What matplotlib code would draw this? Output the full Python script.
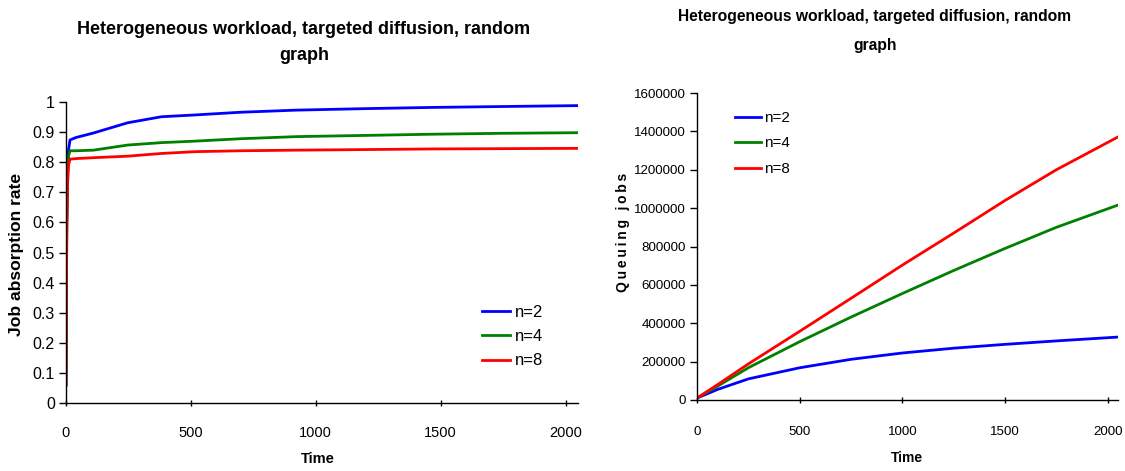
import matplotlib
matplotlib.use("Agg")
import matplotlib.pyplot as plt

plt.rcParams['font.family'] = ['Liberation Sans', 'DejaVu Sans']

# ---- data ----
series_labels = ["n=2", "n=4", "n=8"]
series_colors = ["#0000ff", "#008000", "#ff0000"]

t_abs = [0, 3, 6, 10, 16, 40, 110, 247, 382, 517, 700, 923, 1200, 1467, 1750, 2049]
abs_n2 = [0.06, 0.60, 0.76, 0.84, 0.874, 0.882, 0.897, 0.931, 0.951, 0.957, 0.966, 0.973, 0.978, 0.982, 0.985, 0.988]
abs_n4 = [0.06, 0.60, 0.75, 0.82, 0.838, 0.838, 0.840, 0.857, 0.865, 0.870, 0.878, 0.885, 0.889, 0.893, 0.896, 0.898]
abs_n8 = [0.06, 0.55, 0.72, 0.79, 0.810, 0.812, 0.815, 0.820, 0.829, 0.835, 0.838, 0.840, 0.842, 0.844, 0.845, 0.846]

t_q = [0, 100, 250, 500, 750, 1000, 1250, 1500, 1750, 2050]
q_n2 = [10000, 55000, 110000, 168000, 212000, 245000, 270000, 290000, 308000, 328000]
q_n4 = [10000, 72000, 168000, 304000, 432000, 555000, 675000, 790000, 900000, 1016000]
q_n8 = [10000, 80000, 188000, 358000, 530000, 703000, 870000, 1040000, 1200000, 1371000]

abs_ticks = [0, 0.1, 0.2, 0.3, 0.4, 0.5, 0.6, 0.7, 0.8, 0.9, 1]
abs_tick_labels = ["0", "0.1", "0.2", "0.3", "0.4", "0.5", "0.6", "0.7", "0.8", "0.9", "1"]
q_ticks = [0, 200000, 400000, 600000, 800000, 1000000, 1200000, 1400000, 1600000]
time_ticks = [0, 500, 1000, 1500, 2000]
title_text = "Heterogeneous workload, targeted diffusion, random\ngraph"

W, H = 1125, 471
fig = plt.figure(figsize=(W / 100, H / 100), dpi=100)

def box(l, r, t, b):
    return [l / W, 1 - b / H, (r - l) / W, (b - t) / H]

ax1 = fig.add_axes(box(66, 578, 102, 403))
ax2 = fig.add_axes(box(697, 1118, 93, 400))

for ax in (ax1, ax2):
    for s in ("top", "right"):
        ax.spines[s].set_visible(False)
    for s in ("left", "bottom"):
        ax.spines[s].set_linewidth(1.0)
        ax.spines[s].set_color("#000000")
    ax.tick_params(axis="both", colors="#000000", length=5, width=1)
    ax.tick_params(axis="x", direction="inout")
    ax.tick_params(axis="y", direction="out", pad=3)

ax1.tick_params(axis="x", labelsize=10.5, pad=14)
ax1.tick_params(axis="y", labelsize=11.5)
ax2.tick_params(axis="x", labelsize=9.6, pad=16)
ax2.tick_params(axis="y", labelsize=9.6)

for ys, lab, c in zip([abs_n2, abs_n4, abs_n8], series_labels, series_colors):
    ax1.plot(t_abs, ys, color=c, lw=2.0, label=lab)
ax1.set_xlim(0, 2050)
ax1.set_ylim(0, 1)
ax1.set_yticks(abs_ticks)
ax1.set_yticklabels(abs_tick_labels)
ax1.set_xticks(time_ticks)
ax1.set_xlabel("Time", fontsize=10.5, fontweight="bold")
ax1.xaxis.set_label_coords((318 - 66) / 512, (403 - 452) / 301)
ax1.set_ylabel("Job absorption rate", fontsize=12.6, fontweight="bold")
ax1.yaxis.set_label_coords((24 - 66) / 512, (403 - 254) / 301)

for ys, lab, c in zip([q_n2, q_n4, q_n8], series_labels, series_colors):
    ax2.plot(t_q, ys, color=c, lw=2.0, label=lab)
ax2.set_xlim(0, 2050)
ax2.set_ylim(0, 1600000)
ax2.set_yticks(q_ticks)
ax2.set_yticklabels([str(v) for v in q_ticks])
ax2.set_xticks(time_ticks)
ax2.set_xlabel("Time", fontsize=10, fontweight="bold")
ax2.xaxis.set_label_coords((907 - 697) / 421, (400 - 451) / 307)
ax2.set_ylabel("\u2009".join("Queuing jobs"), fontsize=10, fontweight="bold")
ax2.yaxis.set_label_coords((630 - 697) / 421, (400 - 232) / 307)

ax1.legend(loc="upper left", bbox_to_anchor=((482 - 66) / 512, 1 - (305 - 102) / 301),
           frameon=False, fontsize=12, handlelength=1.7, handletextpad=0.25,
           labelspacing=0.55, borderaxespad=0, borderpad=0)
ax2.legend(loc="upper left", bbox_to_anchor=((735 - 697) / 421, 1 - (111 - 93) / 307),
           frameon=False, fontsize=11, handlelength=1.7, handletextpad=0.2,
           labelspacing=0.75, borderaxespad=0, borderpad=0)

fig.text(304 / W, 1 - 21 / H, title_text, ha="center", va="top", fontsize=13,
         fontweight="bold", linespacing=1.73)
fig.text(875 / W, 1 - 9 / H, title_text, ha="center", va="top", fontsize=11.25,
         fontweight="bold", linespacing=2.15)

fig.savefig("out.png", dpi=100)
